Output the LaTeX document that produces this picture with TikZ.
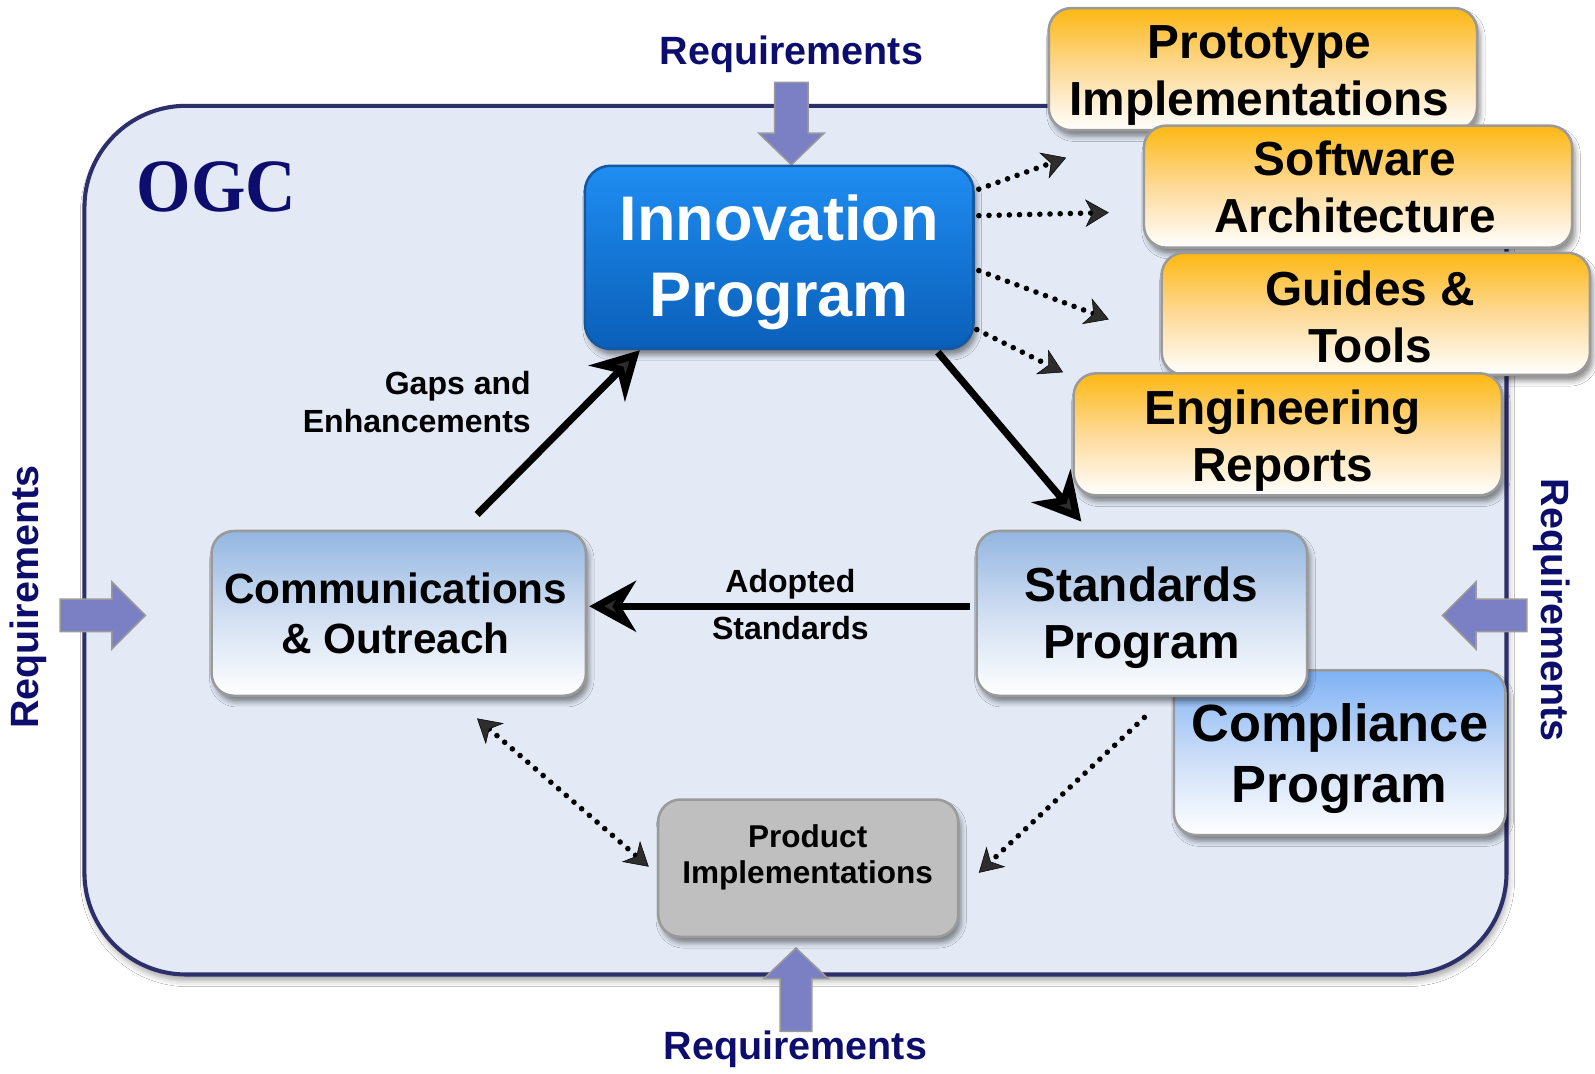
\documentclass[tikz,border=0pt]{standalone}
\usepackage{fontspec}
\setmainfont{Liberation Sans}
\newfontfamily\ogcfont{Liberation Serif}
\usetikzlibrary{arrows.meta,shadows.blur,calc}
\definecolor{mainfill}{HTML}{E3EAF6}
\definecolor{mainborder}{HTML}{2D2F6B}
\definecolor{navytext}{HTML}{0D0D6E}
\definecolor{reqpurple}{HTML}{7B7FC4}
\definecolor{boxgray}{HTML}{9A9A9A}
\definecolor{orTop}{HTML}{FDB813}
\definecolor{orMid}{HTML}{FDDA98}
\definecolor{ltTop}{HTML}{93B6E1}
\definecolor{ltMid}{HTML}{D0DEF2}
\definecolor{cpTop}{HTML}{7FB2F5}
\definecolor{cpMid}{HTML}{C8DBF7}
\definecolor{inTop}{HTML}{1F8DF2}
\definecolor{inBot}{HTML}{0A5FB8}
\definecolor{inBorder}{HTML}{1458A0}
\definecolor{prodfill}{HTML}{BFBFBF}
\newcommand\fsz[2]{\fontsize{#1}{#2}\selectfont\bfseries}
\begin{document}
\begin{tikzpicture}[x=1pt,y=-1pt,
  prog/.style={rounded corners=22pt, draw=boxgray, line width=2.5pt, inner sep=0pt,
     blur shadow={shadow xshift=3pt, shadow yshift=-6pt, shadow blur radius=5pt, shadow opacity=45}},
  ltbox/.style={prog, top color=ltTop, bottom color=white, middle color=ltMid},
  orbox/.style={prog, top color=orTop, bottom color=white, middle color=orMid, minimum width=421pt, minimum height=120pt},
  boxtext/.style={align=center, inner sep=0pt, text=black},
  ortext/.style={boxtext, font=\fsz{47}{56}},
  bigarrow/.style={fill=reqpurple, draw=boxgray, line width=1.5pt},
  reqtext/.style={text=navytext, font=\fsz{38.8}{46}, inner sep=0pt},
  thick arrow/.style={line width=7pt, -{Stealth[length=46pt,width=50pt,inset=15pt]}},
  dotline/.style={line width=5.5pt, dash pattern=on 0pt off 10pt, line cap=round},
  dotarrow/.style={dotline, -{Stealth[length=23pt,width=27pt,inset=7pt,line width=0.5pt]}},
  lbl/.style={font=\fsz{31.5}{37}, inner sep=0pt, text=black}
]
\useasboundingbox (0,0) rectangle (1568,1055);
\fill[white] (0,0) rectangle (1568,1055);

% main OGC area
\draw[fill=mainfill, draw=mainborder, line width=4pt, rounded corners=100pt,
  blur shadow={shadow xshift=2pt, shadow yshift=-6pt, shadow blur radius=6pt, shadow opacity=35}]
  (83,104) rectangle (1481,958);
\node[text=navytext, inner sep=0pt, font=\ogcfont\fontsize{74}{80}\selectfont\bfseries] (ogc) at (213,184) {\scalebox{0.93}[1]{OGC}};

% requirement arrows
\draw[bigarrow] (761.5,81) -- (794.5,81) -- (794.5,131) -- (810,131) -- (778,162) -- (746,131) -- (761.5,131) -- cycle;
\draw[bigarrow] (767,1014) -- (798,1014) -- (798,962) -- (814,962) -- (782.5,932) -- (751,962) -- (767,962) -- cycle;
\draw[bigarrow] (59,589) -- (110,589) -- (110,572) -- (143,605) -- (110,638) -- (110,621) -- (59,621) -- cycle;
\draw[bigarrow] (1501,589) -- (1451,589) -- (1451,572) -- (1418,605) -- (1451,638) -- (1451,621) -- (1501,621) -- cycle;

\node[reqtext] (rtop) at (778,53) {Requirements};
\node[reqtext] (rbot) at (782,1032) {Requirements};
\node[reqtext, rotate=90] (rleft) at (28,587) {Requirements};
\node[reqtext, rotate=-90] (rright) at (1525,600) {Requirements};

% program boxes
\node[ltbox, minimum width=368pt, minimum height=162pt] (comm) at (392,603) {};
\node[boxtext, font=\fsz{41.6}{50}] (commtext) at (389,603) {Communications\\\& Outreach};
\node[prog, top color=cpTop, bottom color=white, middle color=cpMid, minimum width=326pt, minimum height=162pt] (comp) at (1317,740) {};
\node[boxtext, font=\fsz{51.5}{60}] (comptext) at (1317,746) {Compliance\\Program};
\node[ltbox, minimum width=325pt, minimum height=162pt] (std) at (1122.5,603) {};
\node[boxtext, font=\fsz{47}{56}] (stdtext) at (1122,607) {Standards\\Program};
\node[prog, fill=prodfill, minimum width=295pt, minimum height=135pt] (prod) at (794.5,853.5) {};
\node[boxtext, font=\fsz{31}{36}] (prodtext) at (794,843) {Product\\Implementations};
\node[prog, draw=inBorder, top color=inTop, bottom color=inBot, rounded corners=25pt, minimum width=382pt, minimum height=180pt] (inn) at (766,253) {};
\node[boxtext, text=white, font=\fsz{62}{75}] (inntext) at (766,258) {Innovation\\Program};

% output boxes
\node[orbox] (proto) at (1241.5,68) {};
\node[ortext] (prototext) at (1238,74) {Prototype\\Implementations};
\node[orbox] (soft) at (1335,183.5) {};
\node[ortext] (softtext) at (1332,184) {Software\\Architecture};
\node[orbox] (guides) at (1352.5,308.5) {};
\node[ortext] (guidestext) at (1347,312) {Guides \&\\Tools};
\node[orbox] (eng) at (1266,427) {};
\node[ortext] (engtext) at (1261,433) {Engineering\\Reports};

% connectors
\draw[thick arrow] ($(comm.north)+(77,-15)$) -- ($(inn.south)+(-137,0)$);
\draw[thick arrow] ($(inn.south)+(156,2)$) -- ($(std.north)+(-59.5,-8)$);
\draw[thick arrow] ($(std.west)+(-5,-7)$) -- ($(comm.east)+(2,-7)$);

\coordinate (d1) at (1048,155);
\coordinate (d2) at (1090,209);
\coordinate (d3) at (1090,314);
\coordinate (d4) at (1045,366);
\draw[dotarrow] ($(inn.east)+(4,-67)$) -- (d1);
\draw[dotarrow] ($(inn.east)+(4,-41)$) -- (d2);
\draw[dotarrow] ($(inn.east)+(4,13)$) -- (d3);
\draw[dotarrow] ($(inn.east)+(2,71)$) -- (d4);

\draw[dotline, {Stealth[length=23pt,width=27pt,inset=7pt,line width=0.5pt]}-{Stealth[length=23pt,width=27pt,inset=7pt,line width=0.5pt]}]
  ($(comm.south)+(77,21)$) -- ($(prod.west)+(-8,-1.5)$);
\draw[dotarrow] ($(std.south)+(2.5,20)$) -- ($(prod.east)+(19,4.5)$);

% labels
\node[lbl, anchor=east, align=right] (gaps) at (522,395) {Gaps and\\Enhancements};
\node[lbl] (adopted) at (777,574) {Adopted};
\node[lbl] (adstd) at (777,617) {Standards};
\end{tikzpicture}
\end{document}
